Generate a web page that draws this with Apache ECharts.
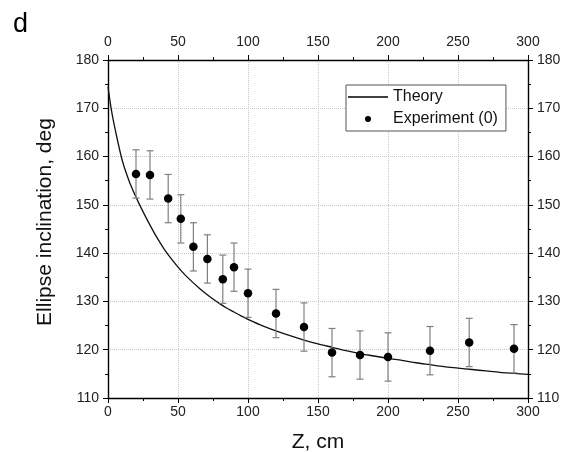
<!DOCTYPE html>
<html>
<head>
<meta charset="utf-8">
<script src="https://cdn.jsdelivr.net/npm/echarts@6/dist/echarts.min.js"></script>
<style>html,body{margin:0;padding:0;background:#fff;}#c{width:565px;height:452px;}</style>
</head>
<body>
<div id="c"></div>
<script>
const theoryZ = [0, 2.5, 5, 10, 15, 20, 25, 30, 35, 40, 45, 50, 55, 60, 65, 70, 75, 80, 85, 90, 95, 100,
  110, 120, 130, 140, 150, 160, 170, 180, 190, 200, 210, 220, 230, 240, 250, 260, 270, 280, 290, 300];
const theoryDeg = [174.5, 169.5, 165.8, 159.4, 155.0, 151.6, 148.6, 145.8, 143.2, 140.9, 138.9, 137.1, 135.5, 134.1, 132.8, 131.6, 130.5, 129.5, 128.6, 127.8, 127.0, 126.3,
  125.0, 123.9, 122.9, 122.0, 121.2, 120.5, 119.8, 119.2, 118.7, 118.2, 117.8, 117.3, 116.9, 116.5, 116.2, 115.9, 115.6, 115.3, 115.1, 114.9];
const expZ = [20, 30, 43, 52, 61, 71, 82, 90, 100, 120, 140, 160, 180, 200, 230, 258, 290];
const expDeg = [156.4, 156.2, 151.3, 147.1, 141.3, 138.8, 134.6, 137.1, 131.7, 127.5, 124.7, 119.4, 118.9, 118.5, 119.8, 121.5, 120.2];
const expErr = [5, 5, 5, 5, 5, 5, 5, 5, 5, 5, 5, 5, 5, 5, 5, 5, 5];
const xTicks = [0, 50, 100, 150, 200, 250, 300];
const yTicks = [110, 120, 130, 140, 150, 160, 170, 180];

const FONT = 'Liberation Sans';
const chart = echarts.init(document.getElementById('c'));
const theoryData = theoryZ.map((z, i) => [z, theoryDeg[i]]);
const expData = expZ.map((z, i) => [z, expDeg[i]]);
const errData = expZ.map((z, i) => [z, expDeg[i] - expErr[i], expDeg[i] + expErr[i]]);

function xAxisCfg(pos, showSplit) {
  return {
    type: 'value', position: pos, min: xTicks[0], max: xTicks[xTicks.length - 1], interval: 50,
    axisLine: { show: true, onZero: false, lineStyle: { color: '#000', width: 1.4 } },
    axisTick: { show: true, inside: false, length: 5, lineStyle: { color: '#000' } },
    minorTick: { show: true, splitNumber: 2, length: 3, lineStyle: { color: '#000' } },
    axisLabel: { color: '#222', fontSize: 14, fontFamily: FONT, margin: pos === 'top' ? 11 : 7 },
    splitLine: { show: showSplit, lineStyle: { color: '#c8c8c8', type: 'dotted', width: 1 } },
    name: pos === 'bottom' ? 'Z, cm' : '', nameLocation: 'middle', nameGap: 34,
    nameTextStyle: { color: '#111', fontSize: 21, fontFamily: FONT }
  };
}
function yAxisCfg(pos, showSplit) {
  return {
    type: 'value', position: pos, min: yTicks[0], max: yTicks[yTicks.length - 1], interval: 10,
    axisLine: { show: true, onZero: false, lineStyle: { color: '#000', width: 1.4 } },
    axisTick: { show: true, inside: false, length: 5, lineStyle: { color: '#000' } },
    minorTick: { show: true, splitNumber: 2, length: 3, lineStyle: { color: '#000' } },
    axisLabel: { color: '#222', fontSize: 14, fontFamily: FONT, margin: 9 },
    splitLine: { show: showSplit, lineStyle: { color: '#c8c8c8', type: 'dotted', width: 1 } },
    name: pos === 'left' ? 'Ellipse inclination, deg' : '', nameLocation: 'middle', nameGap: 52,
    nameTextStyle: { color: '#111', fontSize: 21, fontFamily: FONT, padding: [0, 0, 0, 14] }
  };
}

chart.setOption({
  animation: false,
  backgroundColor: '#fff',
  textStyle: { fontFamily: FONT },
  graphic: [{ type: 'text', left: 13, top: 11, style: { text: 'd', fontSize: 27, fontFamily: FONT, fill: '#000' } }],
  grid: { left: 108, right: 37, top: 60, bottom: 54, containLabel: false, outerBoundsMode: 'none' },
  xAxis: [xAxisCfg('bottom', true), xAxisCfg('top', false)],
  yAxis: [yAxisCfg('left', true), yAxisCfg('right', false)],
  legend: {
    orient: 'vertical', left: 346, top: 85,
    borderColor: '#555', borderWidth: 1, padding: [4, 8, 4, 2], itemGap: 6,
    backgroundColor: '#fff',
    itemWidth: 40, itemHeight: 10,
    textStyle: { fontSize: 16, fontFamily: FONT, color: '#111' },
    data: [
      { name: 'Theory', icon: 'path://M0,0M40,10M0,4.3L40,4.3L40,5.7L0,5.7z', itemStyle: { color: '#000' } },
      { name: 'Experiment (0)', icon: 'path://M0,0M40,10M17,5a3,3 0 1,0 6,0a3,3 0 1,0 -6,0z', itemStyle: { color: '#000' } }
    ]
  },
  series: [
    {
      name: 'Theory', type: 'line', data: theoryData, smooth: 0.3, symbol: 'none',
      lineStyle: { color: '#111', width: 1.3 }, itemStyle: { color: '#111' }, z: 3
    },
    {
      name: 'errbars', type: 'custom', data: errData, z: 4,
      renderItem: function (params, api) {
        const x = api.value(0);
        const lo = api.coord([x, api.value(1)]);
        const hi = api.coord([x, api.value(2)]);
        const w = 3.5;
        const st = { stroke: '#808080', lineWidth: 1.2 };
        return {
          type: 'group', children: [
            { type: 'line', shape: { x1: lo[0], y1: lo[1], x2: hi[0], y2: hi[1] }, style: st },
            { type: 'line', shape: { x1: lo[0] - w, y1: lo[1], x2: lo[0] + w, y2: lo[1] }, style: st },
            { type: 'line', shape: { x1: hi[0] - w, y1: hi[1], x2: hi[0] + w, y2: hi[1] }, style: st }
          ]
        };
      }
    },
    {
      name: 'Experiment (0)', type: 'scatter', data: expData, symbol: 'circle', symbolSize: 8.5,
      itemStyle: { color: '#000', opacity: 1 }, z: 5
    }
  ]
});
</script>
</body>
</html>
